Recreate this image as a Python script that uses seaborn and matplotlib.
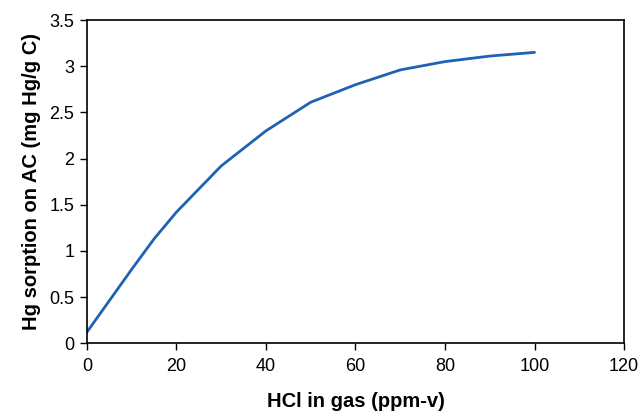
import numpy as np
import pandas as pd
import matplotlib
matplotlib.use('Agg')
import matplotlib.pyplot as plt
import seaborn as sns

hcl_ppmv = [0, 5, 10, 15, 20, 30, 40, 50, 60, 70, 80, 90, 100]
hg_sorption = [0.12, 0.46, 0.80, 1.13, 1.42, 1.92, 2.30, 2.61, 2.80, 2.96, 3.05, 3.11, 3.15]

df = pd.DataFrame({'HCl': hcl_ppmv, 'Hg': hg_sorption})

sns.set_style('ticks')
plt.rcParams['font.family'] = ['Liberation Sans', 'DejaVu Sans']

fig = plt.figure(figsize=(6.44, 4.18), dpi=100)
ax = fig.add_axes([0.135, 0.179, 0.834, 0.773])

sns.lineplot(x='HCl', y='Hg', data=df, ax=ax, color='#1f62b5', linewidth=2.0)

ax.set_xlim(0, 120)
ax.set_ylim(0, 3.5)
ax.set_xticks(np.arange(0, 121, 20))
ax.set_yticks(np.arange(0, 3.51, 0.5))
ax.set_yticklabels(['0', '0.5', '1', '1.5', '2', '2.5', '3', '3.5'])
for s in ax.spines.values():
    s.set_visible(True)
    s.set_color('black')
    s.set_linewidth(1.2)
ax.tick_params(axis='both', direction='out', length=5, width=1, labelsize=13,
               colors='black', labelcolor='black')
ax.tick_params(axis='x', pad=6)
ax.tick_params(axis='y', pad=4)

ax.set_xlabel('HCl in gas (ppm-v)', fontsize=14.5, fontweight='bold', labelpad=12, color='black')
ax.set_ylabel('Hg sorption on AC (mg Hg/g C)', fontsize=14.5, fontweight='bold', labelpad=6, color='black')

plt.savefig('out.png', dpi=100)
